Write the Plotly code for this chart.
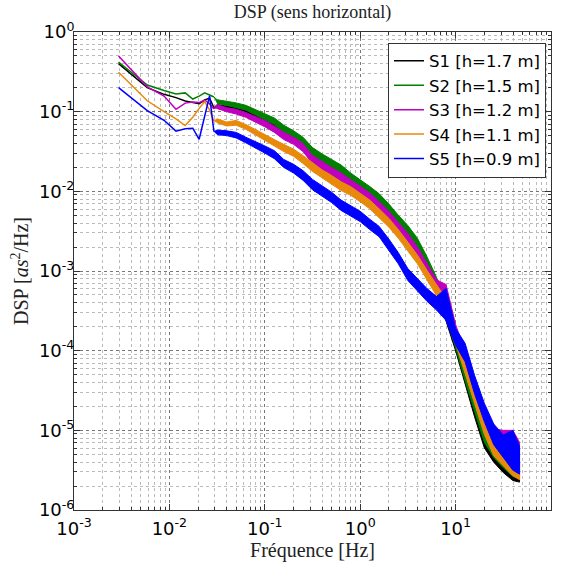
import plotly.graph_objects as go

# ---------------- data ----------------
NAMES = ["S1 [h=1.7 m]", "S2 [h=1.5 m]", "S3 [h=1.2 m]", "S4 [h=1.1 m]", "S5 [h=0.9 m]"]
COLORS = ["#000000", "#008000", "#BF00BF", "#E8890C", "#0000FF"]

# first spectral lines (Hz) - drawn as plain lines
LOW_FREQ = [0.00293, 0.00586, 0.00879, 0.01172, 0.01465, 0.01758, 0.02051, 0.02344, 0.02637, 0.0293]
S1_LOW = [0.40, 0.200, 0.165, 0.150, 0.136, 0.130, 0.126, 0.140, 0.148, 0.112]
S2_LOW = [0.42, 0.216, 0.184, 0.167, 0.172, 0.144, 0.157, 0.172, 0.162, 0.153]
S3_LOW = [0.50, 0.205, 0.157, 0.107, 0.128, 0.132, 0.130, 0.140, 0.125, 0.108]
S4_LOW = [0.312, 0.137, 0.100, 0.081, 0.067, 0.085, 0.110, 0.134, 0.105, 0.076]
S5_LOW = [0.20, 0.103, 0.078, 0.057, 0.061, 0.062, 0.045, 0.092, 0.158, 0.056]

# noisy part: upper / lower envelope of each spectrum (log10 of DSP)
BAND_FREQ = [0.0316, 0.0398, 0.0501, 0.0631, 0.0794, 0.1, 0.126, 0.158, 0.2, 0.251,
             0.316, 0.398, 0.501, 0.631, 0.794, 1.0, 1.26, 1.58, 2.0, 2.51,
             3.16, 3.98, 5.01, 6.31, 7.94, 10.0, 12.6, 15.8, 20.0, 25.1,
             31.6, 39.8, 46.8]
S1_HI_EXP = [-0.91, -0.93, -0.94, -0.98, -1.01, -1.07, -1.11, -1.20, -1.26, -1.34,
             -1.48, -1.56, -1.63, -1.70, -1.80, -1.88, -1.97, -2.06, -2.19, -2.33,
             -2.47, -2.63, -2.87, -3.13, -3.45, -3.82, -4.27, -4.67, -5.04, -5.22,
             -5.33, -5.41, -5.43]
S1_LO_EXP = [-0.96, -0.98, -1.00, -1.04, -1.08, -1.15, -1.19, -1.29, -1.35, -1.44,
             -1.58, -1.66, -1.73, -1.80, -1.89, -1.97, -2.06, -2.16, -2.29, -2.43,
             -2.57, -2.74, -2.99, -3.27, -3.63, -4.00, -4.43, -4.83, -5.22, -5.40,
             -5.53, -5.63, -5.65]
S2_HI_EXP = [-0.85, -0.87, -0.89, -0.92, -0.97, -1.02, -1.08, -1.17, -1.24, -1.32,
             -1.45, -1.53, -1.60, -1.67, -1.77, -1.85, -1.94, -2.03, -2.16, -2.30,
             -2.43, -2.59, -2.82, -3.08, -3.40, -3.78, -4.22, -4.61, -4.97, -5.16,
             -5.27, -5.36, -5.38]
S2_LO_EXP = [-0.90, -0.92, -0.95, -0.98, -1.04, -1.10, -1.16, -1.26, -1.33, -1.42,
             -1.55, -1.63, -1.70, -1.77, -1.87, -1.95, -2.04, -2.13, -2.26, -2.40,
             -2.53, -2.70, -2.94, -3.22, -3.58, -3.96, -4.38, -4.77, -5.15, -5.34,
             -5.47, -5.58, -5.60]
S3_HI_EXP = [-0.91, -0.95, -0.97, -1.01, -1.06, -1.11, -1.18, -1.26, -1.32, -1.40,
             -1.55, -1.63, -1.70, -1.77, -1.85, -1.93, -2.02, -2.13, -2.25, -2.39,
             -2.53, -2.70, -2.91, -3.11, -3.17, -3.67, -4.02, -4.37, -4.71, -4.98,
             -5.00, -5.00, -5.15]
S3_LO_EXP = [-0.96, -1.00, -1.03, -1.07, -1.13, -1.19, -1.26, -1.35, -1.41, -1.50,
             -1.65, -1.73, -1.80, -1.87, -1.95, -2.03, -2.12, -2.23, -2.35, -2.49,
             -2.63, -2.81, -3.03, -3.25, -3.45, -3.85, -4.18, -4.53, -4.89, -5.16,
             -5.22, -5.30, -5.45]
S4_HI_EXP = [-1.09, -1.13, -1.11, -1.16, -1.22, -1.28, -1.35, -1.41, -1.47, -1.55,
             -1.64, -1.73, -1.80, -1.88, -1.94, -2.02, -2.11, -2.22, -2.34, -2.48,
             -2.64, -2.80, -2.99, -3.17, -3.35, -3.73, -4.15, -4.51, -4.87, -5.14,
             -5.24, -5.35, -5.40]
S4_LO_EXP = [-1.14, -1.18, -1.17, -1.22, -1.29, -1.36, -1.43, -1.50, -1.56, -1.65,
             -1.75, -1.84, -1.91, -1.99, -2.05, -2.13, -2.22, -2.33, -2.45, -2.59,
             -2.75, -2.91, -3.11, -3.31, -3.53, -3.91, -4.31, -4.67, -5.05, -5.32,
             -5.44, -5.57, -5.62]
S5_HI_EXP = [-1.23, -1.24, -1.26, -1.32, -1.37, -1.43, -1.49, -1.60, -1.66, -1.74,
             -1.85, -1.93, -2.01, -2.11, -2.18, -2.25, -2.35, -2.44, -2.60, -2.77,
             -2.97, -3.10, -3.22, -3.32, -3.22, -3.72, -3.91, -4.31, -4.66, -4.92,
             -5.06, -5.00, -5.20]
S5_LO_EXP = [-1.29, -1.30, -1.33, -1.39, -1.45, -1.52, -1.59, -1.70, -1.77, -1.86,
             -1.98, -2.06, -2.14, -2.24, -2.31, -2.38, -2.48, -2.57, -2.74, -2.91,
             -3.12, -3.25, -3.38, -3.49, -3.62, -3.93, -4.14, -4.54, -4.89, -5.18,
             -5.34, -5.50, -5.55]

LOWS = [S1_LOW, S2_LOW, S3_LOW, S4_LOW, S5_LOW]
HIS = [S1_HI_EXP, S2_HI_EXP, S3_HI_EXP, S4_HI_EXP, S5_HI_EXP]
LOS = [S1_LO_EXP, S2_LO_EXP, S3_LO_EXP, S4_LO_EXP, S5_LO_EXP]

X_TICKVALS = [1e-3, 1e-2, 1e-1, 1e0, 1e1, 1e2]
X_TICKTEXT = ["10<sup>-3</sup>", "10<sup>-2</sup>", "10<sup>-1</sup>", "10<sup>0</sup>",
              "10<sup>1</sup>", "10<sup>2</sup>"]
Y_TICKVALS = [1e-6, 1e-5, 1e-4, 1e-3, 1e-2, 1e-1, 1e0]
Y_TICKTEXT = ["10<sup>-6</sup>", "10<sup>-5</sup>", "10<sup>-4</sup>", "10<sup>-3</sup>",
              "10<sup>-2</sup>", "10<sup>-1</sup>", "10<sup>0</sup>"]

# ---------------- figure ----------------
fig = go.Figure()
for name, col, low, hi, lo in zip(NAMES, COLORS, LOWS, HIS, LOS):
    hi_v = [10 ** e for e in hi]
    lo_v = [10 ** e for e in lo]
    fig.add_trace(go.Scatter(
        x=LOW_FREQ, y=low, mode="lines", name=name, legendgroup=name,
        line=dict(color=col, width=1.5), hoverinfo="skip"))
    bx = [LOW_FREQ[-1]] + BAND_FREQ + BAND_FREQ[::-1]
    by = [low[-1]] + hi_v + lo_v[::-1]
    fig.add_trace(go.Scatter(
        x=bx, y=by, mode="lines", fill="toself", fillcolor=col,
        line=dict(color=col, width=1), showlegend=False, legendgroup=name,
        hoverinfo="skip"))

minor_x = [m * 10 ** e for e in range(-3, 2) for m in range(2, 10)]
minor_y = [m * 10 ** e for e in range(-6, 0) for m in range(2, 10)]

axis_common = dict(
    type="log", showline=True, linecolor="#333", linewidth=1, mirror="ticks",
    ticks="inside", ticklen=6, tickcolor="#333", showgrid=True,
    gridcolor="#777", griddash="dot", gridwidth=1, zeroline=False, automargin=False,
    tickfont=dict(family="DejaVu Sans", size=18, color="black"),
)

fig.update_xaxes(
    **axis_common, range=[-3, 2], tickmode="array", tickvals=X_TICKVALS, ticktext=X_TICKTEXT,
    ticklabelstandoff=2,
    minor=dict(tickmode="array", tickvals=minor_x, ticks="inside", ticklen=3, tickcolor="#333",
               showgrid=True, gridcolor="#bbb", griddash="dot"),
    title=dict(text="Fréquence [Hz]", font=dict(family="Liberation Serif", size=20, color="#222"),
               standoff=2),
)
fig.update_yaxes(
    **axis_common, range=[-6, 0], tickmode="array", tickvals=Y_TICKVALS, ticktext=Y_TICKTEXT,
    ticklabelstandoff=-5,
    minor=dict(tickmode="array", tickvals=minor_y, ticks="inside", ticklen=3, tickcolor="#333",
               showgrid=True, gridcolor="#bbb", griddash="dot"),
    title=dict(text="DSP [<i>as</i><sup>2</sup>/Hz]",
               font=dict(family="Liberation Serif", size=20, color="#222"), standoff=4),
)

fig.update_layout(
    width=564, height=565,
    margin=dict(l=74, r=13, t=32, b=55),
    paper_bgcolor="white", plot_bgcolor="white",
    title=dict(text="DSP (sens horizontal)", x=0.5, xref="paper", xanchor="center",
               y=0.979, yref="container", yanchor="middle",
               font=dict(family="Liberation Serif", size=18, color="#222")),
    legend=dict(x=0.9895, y=0.978, xanchor="right", yanchor="top",
                bgcolor="white", bordercolor="#333", borderwidth=1,
                font=dict(family="DejaVu Sans", size=16.5, color="black"),
                tracegroupgap=0, itemwidth=30),
    showlegend=True,
)

fig.write_html("out.html", config={"displayModeBar": False},
               post_script="document.body.style.margin='0';document.body.style.overflow='hidden';")
